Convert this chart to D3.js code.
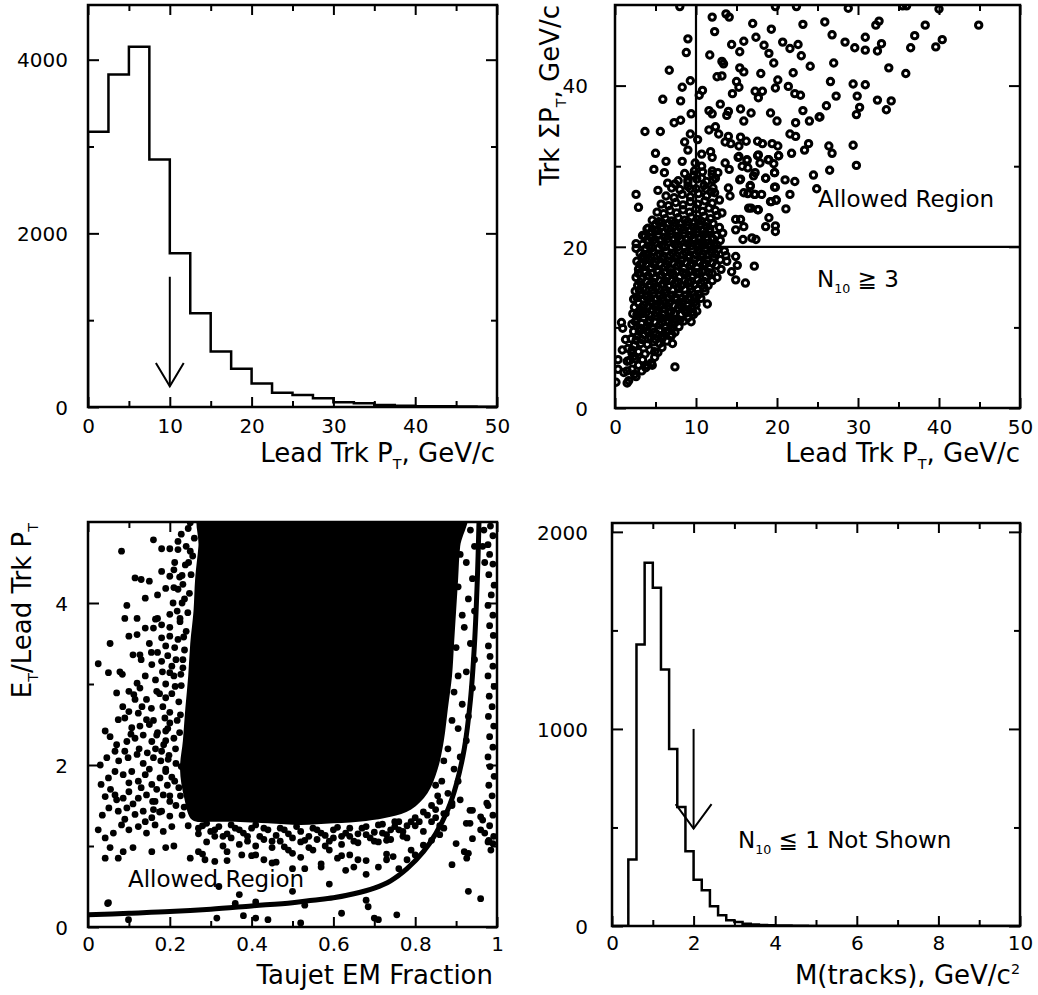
<!DOCTYPE html>
<html>
<head>
<meta charset="UTF-8">
<title>Tau selection variables</title>
<script src="https://cdn.jsdelivr.net/npm/d3@7/dist/d3.min.js"></script>
<style>
  body { margin: 0; background: #fff; }
  svg text { font-family: "DejaVu Sans", "Liberation Sans", sans-serif; fill: #000; }
  .tick line { stroke: #000; stroke-width: 2; }
  .tick text { font-size: 20px; }
  .domain { display: none; }
</style>
</head>
<body>
<script>
// ---- top-left: lead track pT histogram (2.5 GeV bins) ----
var leadPtEdges = d3.range(0, 50.01, 2.5);
var leadPtCounts = [3170, 3830, 4150, 2850, 1770, 1080, 640, 440, 270, 165,
                    138, 100, 55, 42, 22, 15, 10, 8, 5, 3];
var leadPtArrow = {x: 10, top: 1500, tip: 238, head: 508, half: 1.7};

// ---- top-right: track sum pT vs lead track pT ----
var sumPtSparse = [
 [8.0,49.8],[19.8,49.8],[22.4,49.8],[28.8,49.6],[35.5,49.9],[36.0,49.9],[40.0,49.5],
 [12.0,48.5],[13.7,48.9],[14.1,48.5],[17.0,47.7],[19.3,47.0],[23.2,47.6],[12.3,46.7],[9.0,45.8],
 [8.8,44.1],[11.7,43.8],[14.4,45.1],[15.4,44.2],[15.9,45.5],[17.4,46.0],[18.4,45.0],[19.0,44.0],
 [20.7,45.4],[21.6,44.6],[22.6,45.1],[23.0,43.7],[19.6,42.8],[24.1,42.4],[13.2,43.0],[13.4,42.7],
 [15.4,42.2],[15.9,41.7],[18.0,41.5],[22.0,41.6],[6.7,41.9],[9.3,40.6],[8.3,39.8],[12.6,41.1],
 [13.2,41.2],[15.0,40.5],[15.3,39.8],[10.8,39.4],[10.4,38.8],[14.5,39.0],[17.3,39.3],[18.2,39.3],
 [17.7,38.5],[20.1,40.7],[19.8,39.7],[21.4,39.9],[22.2,39.0],[22.9,38.8],[5.9,38.3],[8.1,38.1],
 [13.0,37.7],[11.6,36.9],[12.0,36.5],[14.0,36.8],[13.8,36.3],[15.5,37.1],[16.8,36.6],[15.9,35.6],
 [19.2,36.6],[20.0,35.6],[22.3,35.4],[23.2,36.9],[24.0,35.6],[25.2,36.1],[9.4,36.5],[7.3,35.4],
 [8.1,35.7],[3.7,34.3],[5.6,34.3],[9.3,34.0],[11.6,34.5],[12.4,34.9],[12.8,34.0],[14.0,33.7],
 [15.5,33.6],[16.2,33.1],[17.6,33.1],[18.2,32.8],[19.4,32.8],[20.1,32.5],[21.6,34.0],[22.3,33.7],
 [23.9,32.8],[23.4,32.0],[21.8,31.6],[8.6,33.0],[9.0,32.0],[10.2,33.3],[10.7,31.5],[11.8,31.8],
 [12.0,31.1],[13.6,33.0],[14.3,32.8],[15.3,32.5],[15.2,31.1],[16.3,30.7],[17.7,31.4],[17.9,30.4],
 [18.9,30.8],[19.6,30.3],[20.2,31.3],[5.0,31.6],[6.3,30.6],[8.3,30.6],[4.8,29.6],[6.1,29.2],
 [9.9,30.4],[9.8,29.4],[10.7,30.0],[12.0,29.4],[12.1,28.3],[12.7,29.2],[13.6,30.4],[14.1,29.6],
 [15.7,30.0],[16.4,29.8],[17.3,29.2],[18.6,28.5],[19.7,29.2],[19.8,27.4],[21.0,28.3],[22.2,28.1],
 [24.5,28.9],[24.9,27.2],[15.5,28.4],[16.7,27.5],[17.3,26.5],[16.4,26.6],[18.1,26.5],[19.2,25.6],
 [19.9,25.8],[21.6,26.5],[21.1,24.7],[16.5,24.8],[17.7,24.6],[2.6,26.5],[2.9,24.9],[5.3,27.0],
 [6.5,27.9],[7.4,27.8],[9.0,28.3],[9.3,27.2],[10.7,28.5],[11.2,27.2],[11.9,26.8],[14.0,27.3],
 [14.2,26.3],
 [25.9,47.9],[26.8,46.3],[28.4,45.4],[29.6,44.7],[30.9,46.0],[30.9,44.4],[32.2,47.5],[32.6,48.0],
 [32.9,45.2],[32.4,44.3],[38.3,47.5],[37.0,46.2],[36.5,44.7],[39.6,44.8],[40.4,45.7],[44.9,47.5],
 [27.0,42.8],[33.8,42.2],[35.9,41.5],[26.6,40.5],[29.4,40.2],[30.9,40.1],[27.3,38.7],[29.9,38.7],
 [30.2,37.3],[29.8,36.4],[32.4,38.2],[34.1,38.1],[33.5,37.0],[26.1,37.5],[25.3,36.1],[26.4,32.5],
 [26.8,31.6],[29.4,32.6],[29.8,30.1],[26.5,29.5],
 [2.6,20.4],[3.95,22.2],[3.4,21.4],[0.8,10.6],[0.95,9.9],[1.3,8.5],[0.37,6.0],[1.5,5.8],
 [0.37,4.8],[1.5,4.6],[2.4,4.2],[0.12,3.2],[1.5,3.1],[7.4,5.1],[11.4,12.9],[16.1,15.5],
 [17.2,17.6],[14.9,15.9],[14.4,16.9],[15.1,17.7],[14.9,18.8],[13.8,18.2],[7.1,8.0],[7.0,9.1],
 [5.8,8.7],[9.7,11.6],[9.4,10.7],[8.8,12.2],[4.9,7.0],[4.6,5.3],[4.0,5.3],[2.1,7.2],[2.3,6.4],
 [0.9,7.2],[18.6,22.5],[19.8,22.6],[19.8,21.9],[19.0,23.6],[16.9,21.1],[17.4,20.9],[15.8,20.9],
 [15.9,22.5],[15.5,23.4],[16.8,24.8],[17.6,24.6],[19.3,25.6],[19.9,25.8],[19.7,27.4],[19.7,29.2],
 [18.6,28.5],[19.0,30.8],[17.6,31.3],[20.2,31.3],[16.3,30.8],[15.3,31.2],[17.1,28.8],[16.7,27.6],
 [15.9,26.7],[17.2,26.5],[15.4,28.3],[14.9,23.4],[14.9,22.1]
];
var sumPtDense = [
 [1.7,3.4],[2.6,3.9],[1.1,4.4],[3.3,4.6],[2.1,4.8],
 [2.9,5.3],[3.8,5.0],[4.5,5.6],[1.8,5.9],[2.5,6.1],[3.4,6.0],[4.9,6.3],
 [2.1,6.8],[2.9,7.0],[3.7,6.7],[4.3,7.2],[5.3,6.9],[5.8,7.5],[1.6,7.4],
 [2.4,7.8],[3.2,8.0],[4.0,7.9],[4.8,8.2],[5.5,8.0],[6.4,8.3],[2.0,8.6],[6.9,8.9],
 [2.8,8.9],[3.6,9.1],[4.4,8.8],[5.1,9.2],[5.9,9.0],[6.6,9.6],[2.3,9.5],[7.4,9.4],
 [3.1,9.9],[3.9,10.1],[4.7,9.8],[5.5,10.3],[6.2,10.0],[7.0,10.4],[7.9,10.1],[2.1,10.4],[8.5,10.8],
 [2.7,11.0],[3.5,11.2],[4.3,10.9],[5.0,11.4],[5.8,11.1],[6.6,11.3],[7.5,11.0],[8.2,11.6],[9.0,11.2],[2.2,11.7],
 [3.0,12.0],[3.8,11.8],[4.6,12.2],[5.4,12.0],[6.1,12.3],[6.9,11.9],[7.8,12.4],[8.6,12.1],[9.5,12.5],[10.1,12.0],[2.4,12.5],
 [2.9,13.0],[3.6,12.8],[4.4,13.2],[5.2,12.9],[6.0,13.3],[6.7,13.0],[7.5,13.4],[8.3,13.1],[9.1,13.5],[9.9,13.2],[10.6,13.6],[2.3,13.5],
 [3.1,14.0],[3.9,13.8],[4.7,14.2],[5.5,13.9],[6.2,14.3],[7.0,14.0],[7.9,14.3],[8.7,14.0],[9.5,14.4],[10.3,14.1],[11.1,14.5],[2.5,14.5],
 [2.8,15.2],[3.5,14.9],[4.3,15.3],[5.1,15.0],[5.9,15.4],[6.6,15.1],[7.4,15.5],[8.2,15.2],[9.0,15.6],[9.8,15.3],[10.6,15.5],[11.5,15.2],[12.0,15.8],
 [2.6,16.2],[3.3,16.0],[4.1,16.4],[4.9,16.1],[5.7,16.5],[6.4,16.2],[7.2,16.6],[8.0,16.3],[8.8,16.7],[9.6,16.4],[10.4,16.8],[11.2,16.3],[12.0,16.7],[12.6,16.2],
 [2.9,17.2],[3.7,17.0],[4.5,17.4],[5.3,17.1],[6.1,17.5],[6.9,17.2],[7.7,17.6],[8.5,17.3],[9.3,17.7],[10.1,17.4],[10.9,17.8],[11.7,17.3],[12.5,17.7],[13.1,17.2],
 [2.7,18.2],[3.4,18.0],[4.2,18.4],[5.0,18.1],[5.8,18.5],[6.6,18.2],[7.4,18.6],[8.2,18.3],[9.0,18.7],[9.8,18.4],[10.6,18.8],[11.4,18.3],[12.2,18.7],[13.0,18.4],[13.7,18.9],
 [3.1,19.2],[3.9,19.0],[4.7,19.4],[5.5,19.1],[6.3,19.5],[7.1,19.2],[7.9,19.6],[8.7,19.3],[9.5,19.7],[10.3,19.4],[11.1,19.8],[11.9,19.3],[12.7,19.7],[13.5,19.5],[2.6,19.8],
 [3.4,20.3],[4.2,20.1],[5.0,20.5],[5.8,20.2],[6.6,20.6],[7.4,20.3],[8.2,20.7],[9.0,20.4],[9.8,20.8],[10.6,20.5],[11.4,20.9],[12.2,20.4],[13.0,20.8],
 [3.7,21.3],[4.5,21.1],[5.3,21.5],[6.1,21.2],[6.9,21.6],[7.7,21.3],[8.5,21.7],[9.3,21.4],[10.1,21.8],[10.9,21.5],[11.7,21.9],[12.5,21.4],[13.3,21.7],
 [4.1,22.3],[4.9,22.1],[5.7,22.5],[6.5,22.2],[7.3,22.6],[8.1,22.3],[8.9,22.7],[9.7,22.4],[10.5,22.8],[11.3,22.5],[12.1,22.9],[12.9,22.4],
 [4.6,23.3],[5.4,23.1],[6.2,23.5],[7.0,23.2],[7.8,23.6],[8.6,23.3],[9.4,23.7],[10.2,23.4],[11.0,23.8],[11.8,23.5],[12.6,23.9],
 [5.2,24.3],[6.0,24.1],[6.8,24.5],[7.6,24.2],[8.4,24.6],[9.2,24.3],[10.0,24.7],[10.8,24.4],[11.6,24.8],[12.4,24.5],[13.2,24.2],
 [5.7,25.3],[6.6,25.1],[7.5,25.5],[8.4,25.2],[9.3,25.6],[10.2,25.3],[11.1,25.7],[12.0,25.4],[12.9,25.8],
 [6.3,26.3],[7.3,26.1],[8.3,26.5],[9.3,26.2],[10.3,26.6],[11.3,26.3],[12.3,26.7],
 [7.0,27.3],[8.0,27.1],[9.0,27.5],[10.0,27.2],[11.0,27.6],[12.1,27.3],
 [7.8,28.2],[9.0,28.0],[10.1,28.4],[11.3,28.1],[12.4,28.5],
 [8.6,29.1],[9.7,28.9],[10.8,29.3],[12.0,29.0],
 // second, interleaved layer where the cloud is saturated
 [2.6,8.4],[3.3,8.5],[4.1,8.6],[5.0,8.5],[5.8,8.6],
 [3.0,9.5],[3.9,9.6],[4.8,9.4],[5.5,9.7],[6.3,9.5],[7.0,9.8],
 [2.5,10.7],[3.3,10.5],[4.1,10.6],[4.9,10.7],[5.8,10.6],[6.6,10.8],[7.4,10.6],[8.0,10.9],
 [2.7,11.6],[3.4,11.7],[4.2,11.6],[5.1,11.8],[5.9,11.6],[6.7,11.8],[7.3,11.7],[8.8,11.8],[9.6,11.9],
 [3.3,12.5],[4.1,12.6],[5.0,12.5],[5.7,12.7],[6.5,12.6],[7.3,12.7],[8.2,12.6],[9.0,12.7],[10.0,12.8],
 [2.7,13.7],[3.5,13.5],[4.3,13.6],[5.1,13.5],[5.9,13.7],[6.6,13.6],[7.5,13.7],[8.3,13.6],[9.2,13.8],[10.0,13.7],
 [3.0,14.6],[3.8,14.7],[4.6,14.6],[5.4,14.8],[6.2,14.7],[7.1,14.6],[7.9,14.8],[8.6,14.7],[9.4,14.8],[10.2,14.7],[11.0,14.9],
 [3.1,15.6],[3.9,15.7],[4.7,15.6],[5.5,15.8],[6.3,15.7],[7.0,15.8],[7.8,15.6],[8.6,15.8],[9.4,15.7],[10.2,15.9],[11.0,15.7],
 [2.9,16.7],[3.7,16.8],[4.5,16.7],[5.3,16.9],[6.1,16.8],[6.9,16.8],[7.6,16.9],[8.4,16.8],[9.2,16.9],[10.0,16.8],[10.8,16.9],[11.6,16.8],
 [3.1,17.8],[3.9,17.9],[4.8,17.8],[5.6,17.9],[6.4,17.8],[7.2,18.0],[8.0,17.9],[8.8,18.0],[9.6,17.9],[10.4,18.1],[11.2,17.9],[12.0,18.0],
 [3.5,18.9],[4.4,18.8],[5.2,18.9],[6.0,18.8],[6.8,18.9],[7.6,18.9],[8.4,19.0],[9.2,18.9],[10.0,19.0],[10.8,19.1],[11.6,19.0],[12.4,19.1],
 [3.8,19.8],[4.6,19.9],[5.4,19.8],[6.2,20.0],[7.0,19.9],[7.8,20.0],[8.6,19.9],[9.4,20.1],[10.2,20.0],[11.0,20.2],[11.8,20.0],[12.6,20.2],
 [4.1,20.8],[4.9,20.9],[5.7,20.8],[6.5,21.0],[7.3,20.9],[8.1,21.0],[8.9,20.9],[9.7,21.1],[10.5,21.0],[11.3,21.2],[12.1,21.0],
 [4.5,21.9],[5.3,22.0],[6.1,21.8],[6.9,22.0],[7.7,21.9],[8.5,22.1],[9.3,22.0],[10.1,22.2],[10.9,22.0],[11.7,22.2],
 [5.0,22.8],[5.8,23.0],[6.6,22.9],[7.4,23.0],[8.2,22.9],[9.0,23.1],[9.8,23.0],[10.6,23.2],[11.4,23.0]
];
// cut boundary: lead pT > 10 and sum pT > 20
var sumPtCut = [[10, 50], [10, 20], [50, 20]];

// ---- bottom-left: ET / lead pT vs EM fraction ----
// outline of the saturated (solid black) core of the distribution
var emCore = [
 [0.255,1.32],[0.235,1.6],[0.225,1.95],[0.232,2.3],[0.238,2.7],[0.245,3.1],[0.25,3.5],[0.258,3.9],
 [0.262,4.3],[0.27,4.7],[0.275,5.15],[0.6,5.2],[0.925,5.15],[0.91,4.7],[0.905,4.3],[0.9,3.9],
 [0.895,3.5],[0.89,3.1],[0.88,2.7],[0.87,2.3],[0.855,1.95],[0.83,1.65],[0.79,1.45],[0.74,1.36],
 [0.68,1.31],[0.6,1.28],[0.52,1.26],[0.44,1.28],[0.36,1.3],[0.3,1.3]
];
var emPoints = [
 [0.082,4.64],[0.16,4.78],[0.18,4.67],[0.20,4.67],[0.22,4.66],[0.22,4.76],[0.25,4.64],[0.115,4.31],
 [0.13,4.29],[0.15,4.27],[0.18,4.39],[0.21,4.41],[0.20,4.33],[0.23,4.34],[0.21,4.19],[0.22,4.17],
 [0.14,4.06],[0.17,4.10],[0.19,4.18],[0.095,3.97],[0.09,3.81],[0.12,3.81],[0.14,3.69],[0.16,3.69],
 [0.17,3.81],[0.18,3.73],[0.20,3.86],[0.225,3.81],[0.10,3.59],[0.12,3.61],[0.054,3.50],[0.18,3.57],
 [0.20,3.59],[0.155,3.39],[0.17,3.39],[0.19,3.47],[0.11,3.36],[0.127,3.36],[0.025,3.25],[0.05,3.14],
 [0.078,3.15],[0.084,3.12],[0.156,3.24],[0.18,3.28],[0.20,3.14],[0.12,3.01],[0.127,2.95],[0.10,2.91],
 [0.07,2.89],[0.115,2.81],[0.143,2.81],[0.168,2.91],[0.19,2.83],[0.10,2.66],[0.074,2.56],[0.09,2.58],
 [0.123,2.64],[0.143,2.56],[0.107,2.46],[0.127,2.48],[0.042,2.42],[0.054,2.35],[0.07,2.25],[0.095,2.29],
 [0.115,2.33],[0.135,2.37],[0.156,2.29],[0.168,2.37],[0.19,2.42],[0.046,2.09],[0.066,2.17],[0.09,2.17],
 [0.098,2.09],[0.12,2.13],[0.135,2.02],[0.16,2.09],[0.18,2.17],[0.196,2.07],[0.032,1.76],[0.05,1.84],
 [0.066,1.92],[0.086,1.88],[0.107,1.92],[0.123,1.80],[0.14,1.88],[0.156,1.76],[0.176,1.84],[0.19,1.92],
 [0.042,1.61],[0.066,1.63],[0.086,1.59],[0.10,1.67],[0.123,1.59],[0.143,1.63],[0.164,1.55],[0.184,1.63],
 [0.20,1.55],[0.051,1.47],[0.074,1.43],[0.095,1.47],[0.115,1.39],[0.135,1.43],[0.156,1.35],[0.18,1.43],
 [0.20,1.37],[0.025,1.20],[0.042,1.10],[0.062,1.16],[0.082,1.26],[0.10,1.20],[0.123,1.24],[0.143,1.16],
 [0.164,1.26],[0.184,1.18],[0.205,1.24],[0.042,0.85],[0.074,0.85],[0.054,0.98],[0.086,0.93],[0.11,0.98],
 [0.156,0.93],[0.19,0.98],[0.21,1.00],[0.25,0.85],[0.286,0.83],[0.31,0.81],[0.27,0.93],[0.34,0.93],
 [0.376,0.89],[0.05,0.30],[0.37,0.40],
 [0.03,2.0],[0.055,1.7],[0.075,2.05],[0.1,1.78],[0.13,1.72],[0.15,1.95],[0.16,1.45],[0.14,1.3],
 [0.11,1.52],[0.09,1.33],[0.07,1.57],[0.035,1.38],[0.125,2.2],[0.145,2.15],[0.105,2.38],[0.15,2.5],
 [0.132,2.72],[0.155,2.7],[0.085,2.72],[0.112,2.87],[0.14,3.1],[0.165,3.05],[0.13,3.3],[0.15,3.5],
 [0.165,3.8],
 [0.245,1.25],[0.23,1.38],[0.215,1.5],[0.235,1.48],[0.2,1.62],[0.222,1.72],[0.205,1.85],[0.19,1.95],
 [0.215,2.02],[0.198,2.12],[0.185,2.25],[0.21,2.33],[0.195,2.45],[0.218,2.55],[0.2,2.65],[0.222,2.78],
 [0.205,2.88],[0.228,2.98],[0.21,3.1],[0.232,3.2],[0.215,3.3],[0.236,3.42],[0.22,3.55],[0.24,3.65],
 [0.225,3.77],[0.244,3.88],[0.23,4.0],[0.248,4.12],[0.232,4.23],[0.252,4.35],[0.238,4.47],[0.256,4.58],
 [0.24,4.7],[0.26,4.8],[0.245,4.92],[0.175,1.42],[0.168,1.7],[0.178,2.05],[0.17,2.4],[0.183,2.72],
 [0.19,3.0],[0.195,3.35],[0.2,3.7],[0.208,4.0],[0.212,4.5],[0.158,1.55],[0.165,2.2],[0.16,2.55],
 [0.175,2.88],[0.182,3.15],
 [0.226,1.62],[0.212,1.8],[0.228,1.98],[0.214,2.2],[0.224,2.4],[0.2,2.52],[0.226,2.62],[0.213,2.97],
 [0.227,3.12],[0.205,3.22],[0.232,3.3],[0.212,3.45],[0.234,3.58],[0.218,3.9],[0.236,4.05],[0.224,4.32],
 [0.246,4.5],[0.25,4.99],[0.228,4.85],[0.19,2.3],[0.188,2.58],[0.194,1.75],
 [0.28,1.25],[0.3,1.18],[0.32,1.24],[0.34,1.15],[0.36,1.22],[0.38,1.16],[0.4,1.22],[0.42,1.12],
 [0.44,1.2],[0.46,1.13],[0.48,1.2],[0.5,1.1],[0.52,1.18],[0.54,1.12],[0.56,1.2],[0.58,1.13],
 [0.6,1.2],[0.62,1.12],[0.64,1.22],[0.66,1.15],[0.68,1.24],[0.7,1.17],[0.72,1.27],[0.74,1.2],
 [0.76,1.3],[0.78,1.25],[0.8,1.35],[0.82,1.42],[0.84,1.5],[0.855,1.62],
 [0.27,1.22],[0.29,1.28],[0.31,1.2],[0.33,1.12],[0.35,1.26],[0.37,1.2],[0.39,1.06],[0.41,1.26],
 [0.43,1.22],[0.45,1.06],[0.47,1.22],[0.49,1.15],[0.51,1.24],[0.53,1.07],[0.55,1.22],[0.57,1.16],
 [0.59,1.06],[0.61,1.23],[0.63,1.16],[0.65,1.06],[0.67,1.22],[0.69,1.1],[0.71,1.26],[0.73,1.14],
 [0.75,1.3],[0.77,1.18],[0.79,1.3],[0.81,1.3],[0.83,1.38],[0.85,1.45],
 [0.048,0.29],[0.099,0.09],[0.32,0.50],[0.315,0.11],[0.36,0.29],[0.38,0.14],[0.41,0.31],[0.41,0.11],
 [0.44,0.09],[0.50,0.44],[0.52,0.05],[0.53,0.27],[0.59,0.53],[0.62,0.17],[0.68,0.33],[0.685,0.25],
 [0.70,0.11],[0.71,0.09],[0.755,0.15],[0.89,0.77],[0.93,0.44],[0.96,0.35],[0.92,0.93],[0.94,1.09],
 [0.98,1.07],[0.99,1.03],[0.925,1.28],[0.965,1.32],[0.975,1.53],[0.96,1.20],[0.94,1.44],
 [0.68,0.65],[0.71,0.74],[0.73,0.83],[0.746,0.87],[0.76,0.72],[0.78,0.83],[0.80,0.89],[0.82,1.01],
 [0.84,1.07],[0.86,1.14],[0.87,1.22],[0.876,1.40],[0.89,1.53],[0.91,1.57],[0.934,1.44],[0.934,1.28],
 [0.96,1.36],[0.97,1.16],[0.90,1.03],[0.93,0.91],[0.926,0.85],[0.50,0.72],[0.53,0.72],[0.57,0.74],
 [0.63,0.70],[0.65,0.74],[0.41,0.89],[0.43,0.83],[0.45,0.79],[0.48,0.99],[0.50,0.91],[0.55,0.95],
 [0.59,0.95],[0.61,0.85],[0.64,0.89],[0.66,0.83],[0.71,1.05],[0.73,1.07],[0.77,1.12],[0.75,1.24],
 [0.27,1.15],[0.29,1.05],[0.31,1.12],[0.33,1.0],[0.35,1.1],[0.37,1.02],[0.39,1.12],[0.41,1.0],
 [0.43,1.08],[0.45,0.98],[0.47,1.06],[0.49,0.95],[0.52,1.05],[0.54,0.98],[0.56,1.08],[0.58,1.0],
 [0.6,1.1],[0.62,1.02],[0.64,1.12],[0.66,1.04],[0.68,1.14],[0.70,1.06],[0.72,1.16],[0.74,1.08],
 [0.76,1.2],[0.78,1.1],[0.80,1.25],[0.82,1.18],[0.84,1.3],[0.86,1.25],
 [0.28,0.9],[0.34,0.82],[0.40,0.88],[0.46,0.8],[0.52,0.86],[0.57,0.78],[0.62,0.88],[0.68,0.82],
 [0.73,0.9],[0.79,0.95],
 [0.935,4.9],[0.945,4.7],[0.925,4.5],[0.94,4.3],[0.93,4.05],[0.945,3.9],[0.92,3.7],[0.935,3.5],
 [0.945,3.3],[0.925,3.15],[0.94,2.95],[0.915,2.75],[0.93,2.6],[0.905,2.45],[0.925,2.3],[0.91,2.1],
 [0.895,1.95],[0.905,1.8],[0.88,1.65],[0.89,1.5],[0.86,1.55],[0.87,1.4],[0.85,1.35],
 [0.9,4.9],[0.91,4.6],[0.905,4.2],[0.915,3.85],[0.9,3.45],[0.905,3.1],[0.895,2.9],[0.89,2.55],
 [0.88,2.2],[0.87,2.05],[0.865,1.8],[0.85,1.75],
 [0.985,0.95],[0.978,1.05],[0.992,1.12],[0.982,1.25],[0.99,1.38],[0.978,1.5],[0.988,1.62],[0.98,1.75],
 [0.993,1.86],[0.983,1.98],[0.978,2.1],[0.99,2.22],[0.982,2.35],[0.992,2.48],[0.979,2.6],[0.988,2.72],
 [0.981,2.85],[0.993,2.97],[0.978,3.1],[0.99,3.22],[0.983,3.34],[0.979,3.47],[0.991,3.6],[0.982,3.72],
 [0.99,3.85],[0.978,3.97],[0.986,4.1],[0.993,4.22],[0.98,4.35],[0.99,4.48],[0.982,4.6],[0.978,4.72],
 [0.99,4.83],[0.984,4.95],[0.968,4.9],[0.965,4.7],[0.97,4.5]
];
var emCutLine = [[0,0.15],[0.1,0.17],[0.2,0.19],[0.3,0.22],[0.4,0.26],[0.5,0.30],[0.55,0.33],
 [0.6,0.36],[0.65,0.41],[0.7,0.48],[0.74,0.57],[0.78,0.72],[0.82,0.93],[0.85,1.15],[0.88,1.45],
 [0.9,1.75],[0.92,2.2],[0.935,2.8],[0.945,3.5],[0.952,4.3],[0.956,5.0]];

// ---- bottom-right: track mass histogram (0.2 GeV bins) ----
var massEdges = d3.range(0, 10.001, 0.2);
var massCounts = [0, 0, 337, 1428, 1843, 1716, 1301, 898, 604, 379, 235, 181, 100, 54, 29, 20,
                  12, 8, 5, 4, 2, 2, 1, 1, 0, 0, 0, 0, 0, 0, 0, 0, 0, 0, 0, 0, 0, 0, 0, 0,
                  0, 0, 0, 0, 0, 0, 0, 0, 0, 0];
var massArrow = {x: 2, top: 1000, tip: 494, head: 618, half: 0.44};

var svg = d3.select('body').append('svg').attr('width', 1038).attr('height', 995);

function panel(p) {
  var x = d3.scaleLinear().domain(p.xDomain).range([p.left, p.right]);
  var y = d3.scaleLinear().domain(p.yDomain).range([p.bottom, p.top]);
  var g = svg.append('g');
  var bottom = g.append('g').attr('transform', 'translate(0,' + p.bottom + ')')
    .call(d3.axisBottom(x).tickValues(p.xMajor).tickSize(-10).tickPadding(p.xPad).tickFormat(p.xFmt));
  bottom.selectAll('text').attr('dy', '0.72em');
  g.append('g').attr('transform', 'translate(0,' + p.bottom + ')')
    .call(d3.axisBottom(x).tickValues(p.xMinor).tickSize(-6).tickFormat(''));
  g.append('g').attr('transform', 'translate(0,' + p.top + ')')
    .call(d3.axisTop(x).tickValues(p.xMajor).tickSize(-10).tickFormat(''));
  g.append('g').attr('transform', 'translate(0,' + p.top + ')')
    .call(d3.axisTop(x).tickValues(p.xMinor).tickSize(-6).tickFormat(''));
  var left = g.append('g').attr('transform', 'translate(' + p.left + ',0)')
    .call(d3.axisLeft(y).tickValues(p.yMajor).tickSize(-11).tickPadding(p.yPad).tickFormat(d3.format('d')));
  left.selectAll('text').attr('dy', '0.36em');
  g.append('g').attr('transform', 'translate(' + p.left + ',0)')
    .call(d3.axisLeft(y).tickValues(p.yMinor).tickSize(-6).tickFormat(''));
  g.append('g').attr('transform', 'translate(' + p.right + ',0)')
    .call(d3.axisRight(y).tickValues(p.yMajor).tickSize(-11).tickFormat(''));
  g.append('g').attr('transform', 'translate(' + p.right + ',0)')
    .call(d3.axisRight(y).tickValues(p.yMinor).tickSize(-6).tickFormat(''));
  var id = 'clip' + p.id;
  svg.append('clipPath').attr('id', id).append('rect')
    .attr('x', p.left).attr('y', p.top).attr('width', p.right - p.left).attr('height', p.bottom - p.top);
  var plot = svg.append('g').attr('clip-path', 'url(#' + id + ')');
  svg.append('rect').attr('x', p.left).attr('y', p.top)
    .attr('width', p.right - p.left).attr('height', p.bottom - p.top)
    .attr('fill', 'none').attr('stroke', '#000').attr('stroke-width', 2.5);
  return {x: x, y: y, plot: plot};
}

// label helper: parts are [text, 'sub'|'sup'|null]
function label(parent, parts, size) {
  var t = parent.append('text').attr('font-size', size);
  var shift = 0;
  parts.forEach(function(pt) {
    var want = pt[1] === 'sub' ? size * 0.28 : pt[1] === 'sup' ? -size * 0.38 : 0;
    t.append('tspan').text(pt[0])
      .attr('font-size', pt[1] ? size * 0.55 : size)
      .attr('dy', want - shift);
    shift = want;
  });
  return t;
}

function stepPath(edges, counts) {
  var pts = [[edges[0], 0]];
  counts.forEach(function(c, i) { pts.push([edges[i], c]); pts.push([edges[i + 1], c]); });
  pts.push([edges[edges.length - 1], 0]);
  return pts;
}

function lineOf(P) {
  return d3.line().x(function(d) { return P.x(d[0]); }).y(function(d) { return P.y(d[1]); });
}

function drawArrow(P, a) {
  var line = lineOf(P);
  P.plot.append('path').attr('d', line([[a.x, a.top], [a.x, a.tip]]))
    .attr('fill', 'none').attr('stroke', '#000').attr('stroke-width', 2);
  P.plot.append('path').attr('d', line([[a.x - a.half, a.head], [a.x, a.tip], [a.x + a.half, a.head]]))
    .attr('fill', 'none').attr('stroke', '#000').attr('stroke-width', 2);
}

// ---------- top-left ----------
var TL = panel({id: 'tl', left: 88, right: 497, top: 5, bottom: 407,
  xDomain: [0, 50], yDomain: [0, 4630],
  xMajor: [0, 10, 20, 30, 40, 50], xMinor: [5, 15, 25, 35, 45],
  yMajor: [0, 2000, 4000], yMinor: [1000, 3000],
  xPad: 12, yPad: 20, xFmt: d3.format('d')});
TL.plot.append('path').attr('d', lineOf(TL)(stepPath(leadPtEdges, leadPtCounts)))
  .attr('fill', 'none').attr('stroke', '#000').attr('stroke-width', 2.5);
drawArrow(TL, leadPtArrow);
label(svg.append('g').attr('transform', 'translate(495,462)'),
  [['Lead Trk P', null], ['T', 'sub'], [', GeV/c', null]], 26).attr('text-anchor', 'end');

// ---------- top-right ----------
var TR = panel({id: 'tr', left: 615, right: 1020, top: 5, bottom: 408,
  xDomain: [0, 50], yDomain: [0, 50],
  xMajor: [0, 10, 20, 30, 40, 50], xMinor: [5, 15, 25, 35, 45],
  yMajor: [0, 20, 40], yMinor: [10, 30],
  xPad: 12, yPad: 27, xFmt: d3.format('d')});
TR.plot.append('path').attr('d', lineOf(TR)(sumPtCut))
  .attr('fill', 'none').attr('stroke', '#000').attr('stroke-width', 2.2);
TR.plot.selectAll('circle.pt').data(sumPtDense.concat(sumPtSparse)).enter().append('circle')
  .attr('cx', function(d) { return TR.x(d[0]); })
  .attr('cy', function(d) { return TR.y(d[1]); })
  .attr('r', 3.2).attr('fill', 'none').attr('stroke', '#000').attr('stroke-width', 3);
label(svg.append('g').attr('transform', 'translate(818,207)'), [['Allowed Region', null]], 23);
label(svg.append('g').attr('transform', 'translate(817,287)'),
  [['N', null], ['10', 'sub'], [' \u2267 3', null]], 23);
label(svg.append('g').attr('transform', 'translate(1020,462)'),
  [['Lead Trk P', null], ['T', 'sub'], [', GeV/c', null]], 26).attr('text-anchor', 'end');
label(svg.append('g').attr('transform', 'translate(559,5) rotate(-90)'),
  [['Trk \u03A3P', null], ['T', 'sub'], [', GeV/c', null]], 26).attr('text-anchor', 'end');

// ---------- bottom-left ----------
var BL = panel({id: 'bl', left: 88, right: 497, top: 522, bottom: 927,
  xDomain: [0, 1], yDomain: [0, 5],
  xMajor: [0, 0.2, 0.4, 0.6, 0.8, 1], xMinor: [0.1, 0.3, 0.5, 0.7, 0.9],
  yMajor: [0, 2, 4], yMinor: [1, 3],
  xPad: 10, yPad: 20, xFmt: function(d) { return d === 0 || d === 1 ? String(d) : d.toFixed(1); }});
BL.plot.append('path').attr('d', lineOf(BL).curve(d3.curveCatmullRomClosed)(emCore))
  .attr('fill', '#000').attr('stroke', 'none');
BL.plot.selectAll('circle.pt').data(emPoints).enter().append('circle')
  .attr('cx', function(d) { return BL.x(d[0]); })
  .attr('cy', function(d) { return BL.y(d[1]); })
  .attr('r', 3.4).attr('fill', '#000');
BL.plot.append('path').attr('d', lineOf(BL).curve(d3.curveCatmullRom)(emCutLine))
  .attr('fill', 'none').attr('stroke', '#000').attr('stroke-width', 5);
label(svg.append('g').attr('transform', 'translate(128,887)'), [['Allowed Region', null]], 23);
label(svg.append('g').attr('transform', 'translate(493,984)'), [['Taujet EM Fraction', null]], 26).attr('text-anchor', 'end');
label(svg.append('g').attr('transform', 'translate(31,523) rotate(-90)'),
  [['E', null], ['T', 'sub'], ['/Lead Trk P', null], ['T', 'sub']], 26).attr('text-anchor', 'end');

// ---------- bottom-right ----------
var BR = panel({id: 'br', left: 612, right: 1020, top: 523, bottom: 926,
  xDomain: [0, 10], yDomain: [0, 2045],
  xMajor: [0, 2, 4, 6, 8, 10], xMinor: [1, 3, 5, 7, 9],
  yMajor: [0, 1000, 2000], yMinor: [500, 1500],
  xPad: 10, yPad: 24, xFmt: d3.format('d')});
BR.plot.append('path').attr('d', lineOf(BR)(stepPath(massEdges, massCounts)))
  .attr('fill', 'none').attr('stroke', '#000').attr('stroke-width', 2.5);
drawArrow(BR, massArrow);
label(svg.append('g').attr('transform', 'translate(738,848)'),
  [['N', null], ['10', 'sub'], [' \u2266 1 Not Shown', null]], 23);
label(svg.append('g').attr('transform', 'translate(1020,984)'),
  [['M(tracks), GeV/c', null], ['2', 'sup']], 26).attr('text-anchor', 'end');
</script>
</body>
</html>
